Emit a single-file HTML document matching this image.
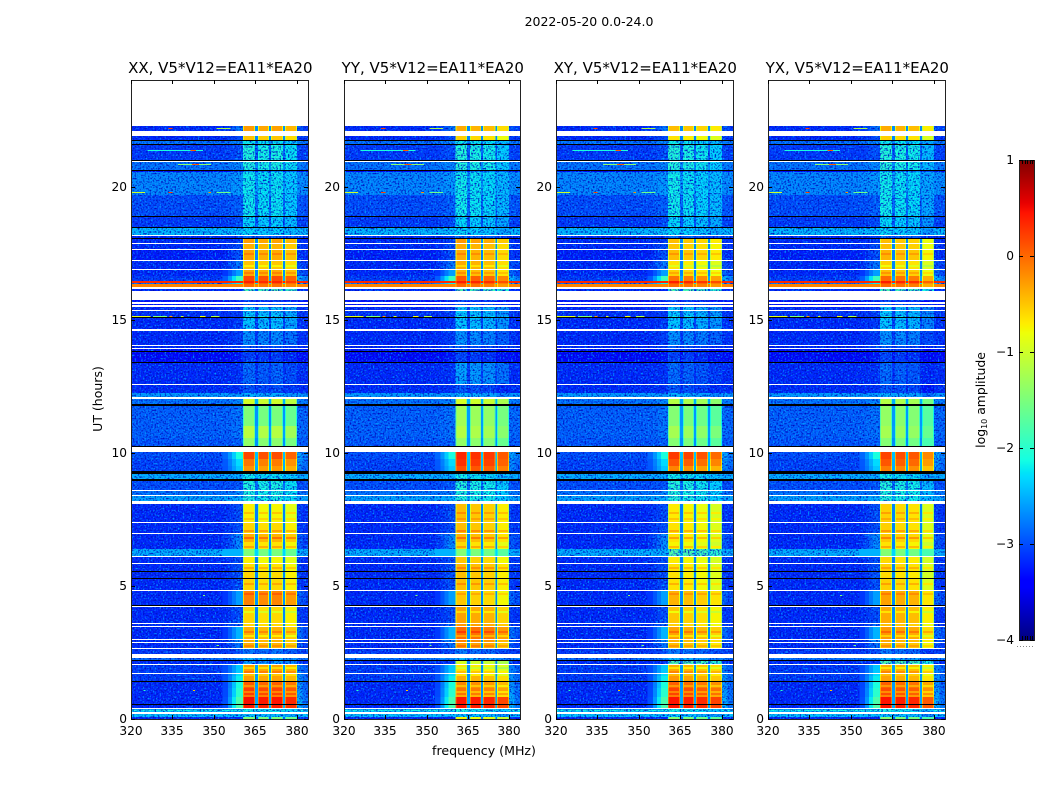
<!DOCTYPE html>
<html>
<head>
<meta charset="utf-8">
<title>2022-05-20 0.0-24.0</title>
<style>
html,body{margin:0;padding:0;background:#fff;}
svg{display:block;}
text{font-family:"DejaVu Sans","Liberation Sans",sans-serif;fill:#000;}
</style>
</head>
<body>
<svg id="figure" width="1050" height="800" viewBox="0 0 1050 800" xmlns="http://www.w3.org/2000/svg">
<defs>
<filter id="speckle" x="0" y="0" width="1" height="1" color-interpolation-filters="sRGB">
<feTurbulence type="fractalNoise" baseFrequency="0.6" numOctaves="1" seed="4" result="n"/>
<feColorMatrix in="n" type="matrix" values="0 0 0 0 0  0 0 0 0 .68  0 0 0 0 1  3.2 0 0 0 -1.62" result="light"/>
<feColorMatrix in="n" type="matrix" values="0 0 0 0 0  0 0 0 0 .05  0 0 0 0 .75  0 3.4 0 0 -1.6" result="dark"/>
<feMerge result="m"><feMergeNode in="light"/><feMergeNode in="dark"/></feMerge>
<feComposite in="m" in2="SourceAlpha" operator="in"/>
</filter>
</defs>
<text x="589" y="26" font-size="12.5" text-anchor="middle">2022-05-20 0.0-24.0</text>
<text x="484" y="755" font-size="12.6" text-anchor="middle">frequency (MHz)</text>
<text transform="translate(102,399) rotate(-90)" font-size="12.5" text-anchor="middle">UT (hours)</text>
<text transform="translate(985,400) rotate(-90)" font-size="12.4" text-anchor="middle">log<tspan font-size="8" dy="2">10</tspan><tspan dy="-2"> amplitude</tspan></text>
<g id="panels"></g>
<g id="colorbar"></g>
</svg>
<script>
// ---- chart data (levels are log10 amplitude; null = flagged white, -9 = black row) ----
const polarizations = ["XX", "YY", "XY", "YX"];
const panelTitles = ["XX, V5*V12=EA11*EA20", "YY, V5*V12=EA11*EA20", "XY, V5*V12=EA11*EA20", "YX, V5*V12=EA11*EA20"];
const freqTicks = [320, 335, 350, 365, 380];
const hourTicks = [0, 5, 10, 15, 20];
const colorbarTicks = [1, 0, -1, -2, -3, -4];
const subbandStart = [360.5, 365.9, 370.6, 375.7];
const subbandEnd = [364.8, 369.9, 375, 380];
const subbandOffsetXX = [0.03, -0.03, 0, -0.12];
const subbandOffsetYY = [0.05, 0, -0.05, -0.22];
const subbandOffsetXY = [0.05, 0, -0.08, -0.2];
const subbandOffsetYX = [0.05, 0, -0.05, -0.32];
const stripeHours = [17.5,17.05,16.78,7.78,7.55,7.1,6.85,6.5,5.7,5.1,4.72,4.05,3.3,3.15,2.78,1.95,1.8,1.28,1.05,0.92];
const stripeChange = [0.2,-0.25,0.2,0.25,0.2,0.3,0.35,0.3,0.25,0.25,0.2,-0.3,0.25,-0.3,0.2,-0.3,0.2,-0.3,-0.35,-0.3];
const spotHours = [22.2,22.2,21.37,21.37,20.85,20.85,19.79,19.79,19.79,19.79,15.12,15.12,15.12,15.12,15.12,15.12,4.66,2.78,1.09,1.09];
const spotFreqStart = [333.5,351,326,341.5,337,342,320,333.5,348,351,320,328,334,338,345,349,346,351,324.5,342.5];
const spotFreqEnd = [335,356,346,343.5,349,344.5,325,335,349,356,327,333,335,339,347,352,346.8,351.8,325.2,343.2];
const spotLevels = [0.2,-1.2,-2.1,0.1,-1.4,0.1,-1,0.2,-0.2,-1.6,-0.9,-1.5,-0.2,-1,-0.8,-1.2,-1.5,-1.5,-2,-0.5];
const rowTopHours = [
22.27,22.08,21.90,21.75,21.71,21.60,21.56,21.00,20.96,20.92,
20.62,20.58,20.54,19.68,18.89,18.85,18.48,18.44,18.18,18.14,
18.07,18.03,17.88,17.84,17.67,17.63,17.24,17.20,16.90,16.86,
16.64,16.45,16.39,16.34,16.21,16.15,16.09,15.74,15.66,15.59,
15.55,15.49,15.36,15.32,15.14,15.10,15.06,14.63,14.57,14.05,
14.01,13.93,13.90,13.82,13.78,13.41,13.37,12.58,12.54,12.24,
12.09,12.02,11.83,11.77,11.00,10.55,10.25,10.21,10.03,9.77,
9.50,9.30,9.22,9.03,9.00,8.94,8.60,8.56,8.41,8.38,
8.17,8.08,7.40,7.36,6.99,6.95,6.65,6.40,6.13,6.10,
5.86,5.82,5.56,5.52,5.30,5.26,4.85,4.81,4.28,4.23,
4.21,3.61,3.57,3.51,3.47,3.00,2.97,2.89,2.85,2.67,
2.63,2.46,2.29,2.22,2.16,2.05,2.01,1.73,1.69,1.63,
1.60,1.43,1.39,1.15,0.82,0.56,0.53,0.43,0.39,0.34,
0.30,0.26,0.19,0.09,0.06];
const backgroundLevels = [
-3,null,-3,-9,-2.6,-9,-2.9,-9,null,-2.6,
-9,-3.2,-2.5,-2.8,-9,-2.9,-9,-2.25,null,-3,
-9,-3,null,-3,null,-3.05,null,-3,null,-3,
-2.9,0.35,-2.6,-0.15,null,-3,null,-3.1,null,-3.1,
null,-3,null,-2.95,-3,-9,-3,null,-3,null,
-3,null,-3.1,-9,-3.2,-9,-3,null,-3,-2.4,
null,-2.6,-9,-2.7,-2.7,-2.75,-9,null,-2.8,-2.85,
-2.85,-9,-2.3,null,-9,-2.8,null,-2.6,null,-2.35,
null,-3,null,-3,null,-3,-3,-2.3,null,-3,
null,-3,-9,-3,-9,-3,null,-3,-9,null,
-3,null,-3,null,-3,null,-3,null,-3,null,
-2.9,null,-2.6,-9,-3,null,-2.9,null,-2.9,-9,
-2.9,-9,-3,-3,-3,-9,-3,null,-2.3,-1.9,
-2.2,null,-2.2,null,-3];
const skirtLevels = [
-2.6,null,-2.8,-9,-2.5,-9,-2.8,-9,null,-2.5,
-9,-3,-2.4,-2.7,-9,-2.8,-9,-2.2,null,-2.9,
-9,-2.9,null,-2.8,null,-2.8,null,-2.6,null,-2.4,
-1.7,0.35,-2,-0.15,null,-3,null,-3,null,-3,
null,-2.9,null,-2.9,-2.9,-9,-2.9,null,-2.9,null,
-2.9,null,-3,-9,-3.1,-9,-2.95,null,-2.95,-2.4,
null,-2.5,-9,-2.6,-2.6,-2.7,-9,null,-1.9,-2.1,
-2.2,-9,-2.3,null,-9,-2.75,null,-2.5,null,-2.3,
null,-2.8,null,-2.8,null,-2.5,-2.5,-2.3,null,-2.8,
null,-2.8,-9,-2.8,-9,-2.8,null,-2.4,-9,null,
-2.8,null,-2.7,null,-2.3,null,-2.5,null,-2.6,null,
-2.8,null,-2.5,-9,-2.9,null,-2.2,null,-2.1,-9,
-2,-9,-1.9,-1.8,-1.6,-9,-1.6,null,-2.3,-1.9,
-2.2,null,-2.2,null,-3];
const bandLevelsXX = [
-0.3,null,-0.5,-9,-2,-9,-1.9,-9,null,-1.9,
-9,-2.5,-2,-2,-9,-2.1,-9,-2.1,null,-2.7,
-9,-0.3,null,-0.4,null,-0.35,null,-0.5,null,-0.35,
0.15,0.35,0.1,-0.05,null,-1.6,null,-2.9,null,-2.7,
null,-2.2,null,-2.2,-2,-9,-2.2,null,-2.5,null,
-2.8,null,-2.9,-9,-2.9,-9,-2.7,null,-2.8,-2.3,
null,-1,-9,-1.5,-1.15,-1.4,-9,null,0.15,-0.1,
-0.25,-9,-2,null,-9,-1.9,null,-1.9,null,-1.9,
null,-0.75,null,-0.6,null,-0.4,-0.65,-1.5,null,-0.75,
null,-0.65,-9,-0.6,-9,-0.6,null,-0.15,-9,null,
-0.6,null,-0.6,null,-0.4,null,-0.4,null,-0.4,null,
-2.6,null,-2.3,-9,-2.4,null,-0.3,null,-0.5,-9,
-0.3,-9,0.05,0.2,0.45,-9,0.4,null,-2,-1.9,
-2,null,-2.2,null,-1.5];
const bandLevelsYY = [
-0.4,null,-0.6,-9,-2,-9,-1.9,-9,null,-1.9,
-9,-2.5,-2,-2,-9,-2.1,-9,-2.1,null,-2.7,
-9,-0.3,null,-0.4,null,-0.4,null,-0.4,null,-0.45,
0.05,0.35,0.1,-0.05,null,-1.6,null,-2.9,null,-2.7,
null,-2.2,null,-2.2,-2,-9,-2.2,null,-2.5,null,
-2.8,null,-2.9,-9,-2.9,-9,-2.4,null,-2.8,-2.3,
null,-1,-9,-1.3,-1.2,-1.4,-9,null,0.3,0.25,
0.1,-9,-2,null,-9,-1.9,null,-1.9,null,-1.9,
null,-0.5,null,-0.5,null,-0.45,-0.65,-1.5,null,-0.55,
null,-0.45,-9,-0.5,-9,-0.5,null,-0.55,-9,null,
-0.35,null,-0.3,null,-0.05,null,-0.2,null,-0.3,null,
-2.6,null,-2.3,-9,-1,null,-0.7,null,-0.7,-9,
-0.4,-9,-0.2,-0.1,0.4,-9,0.4,null,-2,-1.9,
-2,null,-2.2,null,-0.8];
const bandLevelsXY = [
-0.5,null,-0.7,-9,-2,-9,-1.9,-9,null,-1.9,
-9,-2.5,-2,-2,-9,-2.1,-9,-2.1,null,-2.7,
-9,-0.5,null,-0.55,null,-0.5,null,-0.7,null,-0.6,
-0.1,0.35,0.1,-0.05,null,-1.6,null,-2.9,null,-2.7,
null,-2.2,null,-2.2,-2,-9,-2.2,null,-2.5,null,
-2.8,null,-2.9,-9,-2.9,-9,-2.7,null,-2.8,-2.3,
null,-1.2,-9,-1.5,-1.3,-1.5,-9,null,0.2,0.05,
-0.2,-9,-2,null,-9,-1.9,null,-1.9,null,-1.9,
null,-0.75,null,-0.7,null,-0.7,-0.8,-1.6,null,-0.75,
null,-0.7,-9,-0.7,-9,-0.7,null,-0.45,-9,null,
-0.55,null,-0.6,null,-0.35,null,-0.45,null,-0.5,null,
-2.6,null,-2.3,-9,-1.6,null,-0.4,null,-0.5,-9,
-0.3,-9,0,0.15,0.4,-9,0.4,null,-2,-1.9,
-2,null,-2.2,null,-1.5];
const bandLevelsYX = [
-0.4,null,-0.6,-9,-2,-9,-1.9,-9,null,-1.9,
-9,-2.5,-2,-2,-9,-2.1,-9,-2.1,null,-2.7,
-9,-0.5,null,-0.5,null,-0.45,null,-0.6,null,-0.5,
-0.05,0.35,0.1,-0.05,null,-1.6,null,-2.9,null,-2.7,
null,-2.2,null,-2.2,-2,-9,-2.2,null,-2.5,null,
-2.8,null,-2.9,-9,-2.9,-9,-2.7,null,-2.8,-2.3,
null,-1.2,-9,-1.4,-1.3,-1.5,-9,null,0.15,0.05,
-0.15,-9,-2,null,-9,-1.9,null,-1.9,null,-1.9,
null,-0.6,null,-0.6,null,-0.55,-0.7,-1.5,null,-0.65,
null,-0.6,-9,-0.65,-9,-0.6,null,-0.35,-9,null,
-0.4,null,-0.5,null,-0.3,null,-0.4,null,-0.45,null,
-2.6,null,-2.3,-9,-1.6,null,-0.4,null,-0.5,-9,
-0.35,-9,0,0.1,0.4,-9,0.4,null,-2,-1.9,
-2,null,-2.2,null,-1.5];

// ---- layout ----
const SVGNS = "http://www.w3.org/2000/svg";
const panelLefts = [131, 344, 556, 768];
const panelWidths = [177, 176, 177, 177];
const plotTop = 80, plotBottom = 719;
const freqMin = 320, freqMax = 384, hourMax = 24;
const cbLeft = 1019, cbRight = 1034, cbTop = 160, cbBottom = 640;
const levelMin = -4, levelMax = 1;
const floorBias = -0.2;

function xScale(freq, left, width) { return left + (freq - freqMin) / (freqMax - freqMin) * width; }
function yScale(hour) { return plotBottom - hour / hourMax * (plotBottom - plotTop); }
function levelY(level) { return cbBottom - (level - levelMin) / (levelMax - levelMin) * (cbBottom - cbTop); }
function clamp01(v) { return Math.max(0, Math.min(1, v)); }
function ramp(t, stops) {
  for (let i = 1; i < stops.length; i++) {
    if (t <= stops[i][0]) {
      const a = stops[i - 1], b = stops[i];
      return a[1] + (b[1] - a[1]) * (t - a[0]) / (b[0] - a[0]);
    }
  }
  return stops[stops.length - 1][1];
}
const jetRed = [[0, 0], [0.35, 0], [0.66, 1], [0.89, 1], [1, 0.5]];
const jetGreen = [[0, 0], [0.125, 0], [0.375, 1], [0.64, 1], [0.91, 0], [1, 0]];
const jetBlue = [[0, 0.5], [0.11, 1], [0.34, 1], [0.65, 0], [1, 0]];
function jet(level) {
  if (level <= -9) return "#000";
  const t = clamp01((level - levelMin) / (levelMax - levelMin));
  return "rgb(" + Math.round(ramp(t, jetRed) * 255) + "," + Math.round(ramp(t, jetGreen) * 255) + "," + Math.round(ramp(t, jetBlue) * 255) + ")";
}
function floorLevel(v) { return v < -1.5 ? v + floorBias : v; }
function make(tag, parent) {
  const el = document.createElementNS(SVGNS, tag);
  parent.appendChild(el);
  return el;
}
function cell(parent, x0, x1, y0, y1, color) {
  const r = make("rect", parent);
  r.setAttribute("x", x0.toFixed(2));
  r.setAttribute("y", y0);
  r.setAttribute("width", (x1 - x0).toFixed(2));
  r.setAttribute("height", y1 - y0);
  r.setAttribute("fill", color);
  r.setAttribute("shape-rendering", "crispEdges");
  
  
  return r;
}
function line(parent, x1, y1, x2, y2, name) {
  const l = make("line", parent);
  l.setAttribute("x1", x1);
  l.setAttribute("y1", y1);
  l.setAttribute("x2", x2);
  l.setAttribute("y2", y2);
  l.setAttribute("stroke", "#000");
  l.setAttribute("stroke-width", "1");
  l.setAttribute("shape-rendering", "crispEdges");
  
  
  return l;
}
function label(parent, x, y, str, anchor, size, name) {
  const t = make("text", parent);
  t.setAttribute("x", x);
  t.setAttribute("y", y);
  t.setAttribute("text-anchor", anchor);
  t.setAttribute("font-size", size);
  
  
  t.textContent = str;
  return t;
}
function minus(v) { return v < 0 ? "\u2212" + Math.abs(v) : String(v); }

const allBandLevels = [bandLevelsXX, bandLevelsYY, bandLevelsXY, bandLevelsYX];
const allOffsets = [subbandOffsetXX, subbandOffsetYY, subbandOffsetXY, subbandOffsetYX];
const panelsRoot = document.getElementById("panels");

polarizations.forEach(function (pol, p) {
  const left = panelLefts[p];
  const width = panelWidths[p];
  const g = make("g", panelsRoot);
  
  
  const cells = make("g", g);
  
  
  const grain = make("g", g);
  grain.setAttribute("filter", "url(#speckle)");
  
  
  const marks = make("g", g);
  
  
  const bands = allBandLevels[p];
  const offsets = allOffsets[p];
  const xs = function (f) { return xScale(f, left, width); };

  rowTopHours.forEach(function (topHour, i) {
    const bottomHour = i + 1 < rowTopHours.length ? rowTopHours[i + 1] : 0;
    const y0 = Math.round(yScale(topHour));
    const y1 = Math.max(y0 + 1, Math.round(yScale(bottomHour)));
    if (backgroundLevels[i] === null) return;
    const xEnd = left + width;
    if (backgroundLevels[i] === -9) { cell(cells, left, xEnd, y0, y1, "#000"); return; }
    const bg = floorLevel(backgroundLevels[i]);
    const sk = floorLevel(skirtLevels[i]);
    const band = floorLevel(bands[i]);
    const firstBand = subbandStart[0];
    const lastBand = subbandEnd[3];
    cell(cells, left, xs(353), y0, y1, jet(bg));
    cell(cells, xs(353), xs(355), y0, y1, jet(bg + 0.15 * (sk - bg)));
    cell(cells, xs(355), xs(356.5), y0, y1, jet(bg + 0.4 * (sk - bg)));
    cell(cells, xs(356.5), xs(358), y0, y1, jet(bg + 0.7 * (sk - bg)));
    cell(cells, xs(358), xs(firstBand), y0, y1, jet(sk));
    cell(cells, xs(lastBand), xs(382), y0, y1, jet(bg + 0.5 * (sk - bg)));
    cell(cells, xs(382), xEnd, y0, y1, jet(bg + 0.3 * (sk - bg)));
    subbandStart.forEach(function (startF, b) {
      const endF = subbandEnd[b];
      const v = band + offsets[b];
      const edge = v > -1.8 ? v - 0.45 : v;
      cell(cells, xs(startF), xs(startF + 0.35), y0, y1, jet(edge));
      cell(cells, xs(startF + 0.35), xs(endF - 0.35), y0, y1, jet(v));
      cell(cells, xs(endF - 0.35), xs(endF), y0, y1, jet(edge));
      if (b < 3) cell(cells, xs(endF), xs(subbandStart[b + 1]), y0, y1, jet(bg + 0.18 * (band - bg)));
      stripeHours.forEach(function (h, s) {
        if (h <= topHour && h > bottomHour && band > -1.5) {
          const sy = Math.round(yScale(h));
          cell(marks, xs(startF + 0.35), xs(endF - 0.35), sy, sy + 2, jet(v + stripeChange[s]));
        }
      });
    });
    if (backgroundLevels[i] < -1) {
      const smoothSkirt = skirtLevels[i] > -2.45;
      const bx1 = band < -1.5 ? xEnd : (smoothSkirt ? xs(353) : xs(firstBand));
      const tex = make("rect", grain);
      tex.setAttribute("x", left);
      tex.setAttribute("y", y0);
      tex.setAttribute("width", (bx1 - left).toFixed(2));
      tex.setAttribute("height", y1 - y0);
      tex.setAttribute("fill", "#000");
      if (band >= -1.5) {
        const tex2 = make("rect", grain);
        tex2.setAttribute("x", xs(lastBand).toFixed(2));
        tex2.setAttribute("y", y0);
        tex2.setAttribute("width", (xEnd - xs(lastBand)).toFixed(2));
        tex2.setAttribute("height", y1 - y0);
        tex2.setAttribute("fill", "#000");
      }
    }
  });

  spotHours.forEach(function (h, s) {
    const sy = Math.round(yScale(h));
    cell(marks, xs(spotFreqStart[s]), xs(spotFreqEnd[s]), sy, sy + 1, jet(spotLevels[s]));
  });

  const frame = make("rect", g);
  frame.setAttribute("x", left + 0.5);
  frame.setAttribute("y", plotTop + 0.5);
  frame.setAttribute("width", width);
  frame.setAttribute("height", plotBottom - plotTop);
  frame.setAttribute("fill", "none");
  frame.setAttribute("stroke", "#222");
  frame.setAttribute("stroke-width", "1");
  
  

  freqTicks.forEach(function (f) {
    const x = Math.round(xs(f)) + 0.5;
    line(g, x, plotTop, x, plotTop + 4, "x-tick-top");
    line(g, x, plotBottom, x, plotBottom - 4, "x-tick-bottom");
    label(g, x - 0.5, plotBottom + 16, String(f), "middle", 12.2, "x-tick-label");
  });
  hourTicks.forEach(function (h) {
    const y = Math.round(yScale(h)) + 0.5;
    line(g, left, y, left + 4, y, "y-tick-left");
    line(g, left + width, y, left + width - 4, y, "y-tick-right");
    label(g, left - 4, y + 3.5, String(h), "end", 12.2, "y-tick-label");
  });
  label(g, left + width / 2 + 0.8, 73, panelTitles[p], "middle", 15, "panel-title-" + pol.toLowerCase());
});

// ---- colorbar ----
const cb = document.getElementById("colorbar");
for (let y = cbTop; y < cbBottom; y++) {
  const lvl = levelMax - (y + 0.5 - cbTop) / (cbBottom - cbTop) * (levelMax - levelMin);
  const s = make("rect", cb);
  s.setAttribute("x", cbLeft);
  s.setAttribute("y", y);
  s.setAttribute("width", cbRight - cbLeft);
  s.setAttribute("height", 1);
  s.setAttribute("fill", jet(lvl));
  s.setAttribute("shape-rendering", "crispEdges");
  
  
}
const cbFrame = make("rect", cb);
cbFrame.setAttribute("x", cbLeft + 0.5);
cbFrame.setAttribute("y", cbTop + 0.5);
cbFrame.setAttribute("width", cbRight - cbLeft);
cbFrame.setAttribute("height", cbBottom - cbTop);
cbFrame.setAttribute("fill", "none");
cbFrame.setAttribute("stroke", "#222");


colorbarTicks.forEach(function (v) {
  const y = Math.round(levelY(v)) + 0.5;
  line(cb, cbLeft, y, cbLeft + 4, y, "colorbar-tick-left");
  line(cb, cbRight, y, cbRight - 4, y, "colorbar-tick-right");
  label(cb, cbLeft - 5, y + 3.5, minus(v), "end", 12.2, "colorbar-tick-label");
});
for (let x = cbLeft + 3; x < cbRight - 1; x += 2.5) {
  const px = Math.round(x) + 0.5;
  line(cb, px, cbTop, px, cbTop + 4, "colorbar-minor-tick-top");
  line(cb, px, cbBottom, px, cbBottom - 4, "colorbar-minor-tick-bottom");
}
const cbDots = line(cb, 1017, 646.5, 1035, 646.5, "colorbar-minor-dots");
cbDots.setAttribute("stroke", "#888");
cbDots.setAttribute("stroke-dasharray", "1 2");
</script>
</body>
</html>
